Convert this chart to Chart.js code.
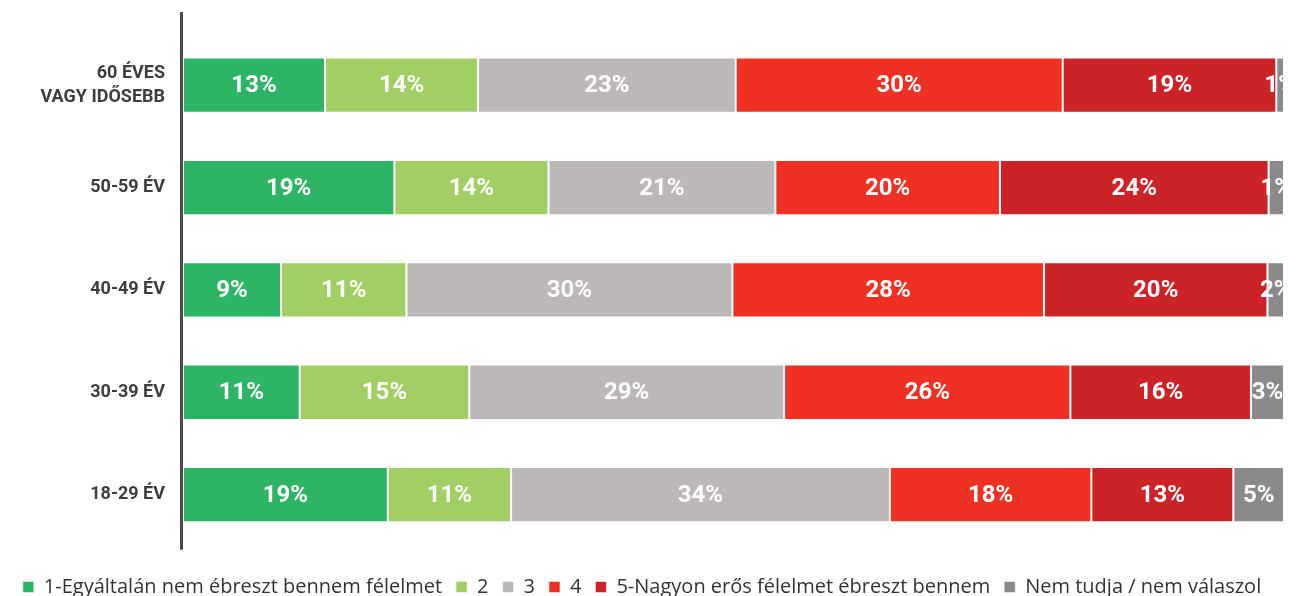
<!DOCTYPE html>
<html>
<head>
<meta charset="utf-8">
<script src="https://cdn.jsdelivr.net/npm/chart.js@4/dist/chart.umd.min.js"></script>
<style>
  html, body { margin: 0; padding: 0; background: #fff; overflow: hidden; }
  #wrap { width: 1305px; height: 596px; position: relative; }
</style>
</head>
<body>
<div id="wrap"><canvas id="chart"></canvas></div>
<script>
// Age groups, top to bottom
const categories = [['60 ÉVES', 'VAGY IDŐSEBB'], '50-59 ÉV', '40-49 ÉV', '30-39 ÉV', '18-29 ÉV'];

// Share per answer (%)
const answer1 = [12.9, 19.2, 8.9, 10.6, 18.6];
const answer2 = [13.9, 14.0, 11.4, 15.4, 11.2];
const answer3 = [23.4, 20.6, 29.6, 28.6, 34.4];
const answer4 = [29.7, 20.4, 28.3, 26.0, 18.3];
const answer5 = [19.4, 24.4, 20.3, 16.4, 12.9];
const noAnswer = [0.7, 1.4, 1.5, 3.0, 4.6];

const seriesNames = [
    '1-Egyáltalán nem ébreszt bennem félelmet',
    '2',
    '3',
    '4',
    '5-Nagyon erős félelmet ébreszt bennem',
    'Nem tudja / nem válaszol'
];
const seriesColors = ['#2db464', '#a1cf64', '#bcb8b8', '#ee3123', '#cc2329', '#8b8989'];
const seriesValues = [answer1, answer2, answer3, answer4, answer5, noAnswer];

const FONT = 'Roboto, "Noto Sans", sans-serif';

// white % labels inside segments, clipped to the plot area
const barLabels = {
    id: 'barLabels',
    afterDatasetsDraw(chart) {
        const { ctx, chartArea } = chart;
        ctx.save();
        ctx.beginPath();
        ctx.rect(chartArea.left, chartArea.top, chartArea.right - chartArea.left, chartArea.bottom - chartArea.top);
        ctx.clip();
        ctx.fillStyle = '#ffffff';
        ctx.font = 'bold 24px ' + FONT;
        ctx.textAlign = 'center';
        ctx.textBaseline = 'middle';
        chart.data.datasets.forEach((ds, i) => {
            chart.getDatasetMeta(i).data.forEach((bar, j) => {
                const cx = (bar.x + bar.base) / 2;
                ctx.fillText(Math.round(ds.data[j]) + '%', cx, bar.y + 1);
            });
        });
        ctx.restore();
    }
};

// dark vertical axis line, a bit taller than the plot area
const axisLine = {
    id: 'axisLine',
    afterDraw(chart) {
        const { ctx, chartArea } = chart;
        ctx.save();
        ctx.strokeStyle = '#4a4a4a';
        ctx.lineWidth = 3;
        ctx.beginPath();
        ctx.moveTo(chartArea.left - 1.5, chartArea.top - 22);
        ctx.lineTo(chartArea.left - 1.5, chartArea.bottom + 4);
        ctx.stroke();
        ctx.restore();
    }
};

new Chart(document.getElementById('chart'), {
    type: 'bar',
    data: {
        labels: categories,
        datasets: seriesValues.map((vals, i) => ({
            label: seriesNames[i],
            data: vals,
            backgroundColor: seriesColors[i],
            borderColor: 'rgba(255,255,255,0.5)',
            borderWidth: 1,
            borderSkipped: false,
            barPercentage: 0.54,
            categoryPercentage: 1
        }))
    },
    options: {
        indexAxis: 'y',
        responsive: true,
        maintainAspectRatio: false,
        animation: false,
        layout: { padding: { top: 34, right: 21, left: 0, bottom: -11 } },
        scales: {
            x: { stacked: true, min: 0, max: 100, display: false },
            y: {
                stacked: true,
                grid: { display: false },
                border: { display: false },
                afterFit(scale) { scale.width = 183; },
                ticks: {
                    color: '#3d3d3d',
                    padding: 10,
                    font: { family: FONT, size: 18, weight: 'bold', lineHeight: 1.33 }
                }
            }
        },
        plugins: {
            legend: {
                position: 'bottom',
                title: { display: true, text: ' ', font: { size: 1 }, padding: { top: 11, bottom: 5 } },
                labels: {
                    color: '#333333',
                    boxWidth: 11,
                    boxHeight: 11,
                    padding: 14,
                    font: { family: '"Open Sans", Roboto, sans-serif', size: 20 }
                }
            },
            tooltip: { enabled: false }
        }
    },
    plugins: [barLabels, axisLine]
});
</script>
</body>
</html>
